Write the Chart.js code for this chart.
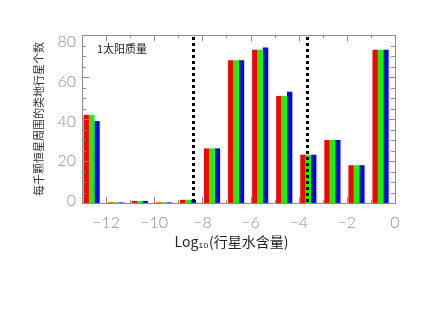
<!DOCTYPE html>
<html>
<head>
<meta charset="utf-8">
<script src="https://cdn.jsdelivr.net/npm/chart.js@4.4.1/dist/chart.umd.min.js"></script>
<style>
  html, body { margin: 0; padding: 0; background: #fff; }
  #wrap { width: 425px; height: 319px; }
</style>
</head>
<body>
<div id="wrap"><canvas id="c" width="425" height="319"></canvas></div>
<script>
// bin centres, log10(water content)
const binCenters = [-12.6, -11.6, -10.6, -9.6, -8.6, -7.6, -6.6, -5.6, -4.6, -3.6, -2.6, -1.6, -0.6];
// terrestrial planets per 1000 stars, three model runs
const redVals   = [42, 0.3, 1, 0.3, 1.5, 26, 68, 73, 51, 23, 30, 18, 73];
const greenVals = [42, 0.3, 1, 0.3, 1.5, 26, 68, 73, 51, 23, 30, 18, 73];
const blueVals  = [39, 0.3, 1, 0.3, 1.5, 26, 68, 74, 53, 23, 30, 18, 73];
const xTicks = [-12, -10, -8, -6, -4, -2, 0];
const yTicks = [0, 20, 40, 60, 80];
const dottedAt = [-8.4, -3.65];
const panelLabel = "1太阳质量";

const tickFont = { family: "Lato, 'Open Sans', sans-serif", size: 16, weight: 300 };
const gray = "#8c8c8c";

function pts(vals) {
  return vals.map((v, i) => ({ x: binCenters[i], y: v }));
}

// frame, inward ticks, dotted limits, label
const decor = {
  id: "decor",
  afterDatasetsDraw(chart) {
    const { ctx, chartArea: a, scales: { x, y } } = chart;
    ctx.save();

    // dotted lines
    ctx.strokeStyle = "#000";
    ctx.lineWidth = 3;
    ctx.setLineDash([3, 3]);
    dottedAt.forEach(v => {
      const px = Math.round(x.getPixelForValue(v)) + 0.5;
      ctx.beginPath();
      ctx.moveTo(px, a.top + 2);
      ctx.lineTo(px, a.bottom);
      ctx.stroke();
    });
    ctx.setLineDash([]);

    // box
    ctx.strokeStyle = gray;
    ctx.lineWidth = 1;
    ctx.strokeRect(Math.round(a.left) + 0.5, Math.round(a.top) + 0.5,
                   Math.round(a.right - a.left), Math.round(a.bottom - a.top));

    // y ticks every 5
    ctx.beginPath();
    for (let v = 0; v <= 80; v += 5) {
      const py = Math.round(y.getPixelForValue(v)) + 0.5;
      const len = v % 20 === 0 ? 7 : 4;
      ctx.moveTo(a.left, py); ctx.lineTo(a.left + len, py);
      ctx.moveTo(a.right, py); ctx.lineTo(a.right - len, py);
    }
    // x ticks every 1
    for (let v = -13; v <= 0; v++) {
      const px = Math.round(x.getPixelForValue(v)) + 0.5;
      const len = v % 2 === 0 ? 6 : 3;
      ctx.moveTo(px, a.bottom); ctx.lineTo(px, a.bottom - len);
      ctx.moveTo(px, a.top); ctx.lineTo(px, a.top + len);
    }
    ctx.stroke();

    // panel label
    ctx.fillStyle = "#222";
    ctx.font = "11px 'Noto Sans CJK SC', sans-serif";
    ctx.textBaseline = "middle";
    ctx.fillText(panelLabel, a.left + 15, a.top + 14);
    ctx.restore();
  }
};

new Chart(document.getElementById("c").getContext("2d"), {
  type: "bar",
  data: {
    datasets: [
      { data: pts(redVals),   backgroundColor: "#ff0000" },
      { data: pts(greenVals), backgroundColor: "#00ff00" },
      { data: pts(blueVals),  backgroundColor: "#0000ff" },
    ],
  },
  options: {
    responsive: false,
    animation: false,
    layout: { padding: { top: 35, right: 30, left: 0, bottom: 0 } },
    datasets: { bar: { categoryPercentage: 0.67, barPercentage: 1.0, borderWidth: 0 } },
    plugins: { legend: { display: false }, tooltip: { enabled: false } },
    scales: {
      x: {
        type: "linear",
        min: -13, max: 0,
        offset: false,
        grid: { display: false, drawTicks: false },
        border: { display: false },
        afterBuildTicks: ax => { ax.ticks = xTicks.map(v => ({ value: v })); },
        afterFit: ax => { ax.height = 116; },
        ticks: {
          color: gray, font: tickFont, padding: 10, maxRotation: 0,
          callback: v => (v < 0 ? "\u2212" + Math.abs(v) : String(v)),
        },
        title: {
          display: true,
          text: "Log\u2081\u2080(行星水含量)\u2002\u2002",
          color: "#222",
          font: { family: "'Noto Sans CJK SC', sans-serif", size: 14 },
          padding: { top: 0, bottom: 69 },
        },
      },
      // scale the bars are drawn on
      y: {
        min: 0, max: 80,
        display: false,
      },
      // labelled axis (labels sit slightly off the tick marks in the original)
      yLab: {
        position: "left",
        min: -1, max: 83.5,
        grid: { display: false, drawTicks: false },
        border: { display: false },
        afterBuildTicks: ax => { ax.ticks = yTicks.map(v => ({ value: v })); },
        afterFit: ax => { ax.width = 82; },
        ticks: { color: gray, font: tickFont, padding: 6 },
        title: {
          display: true,
          text: "每千颗恒星周围的类地行星个数",
          color: "#333",
          font: { family: "'Noto Sans CJK SC', sans-serif", size: 11 },
          padding: { top: 32, bottom: 0 },
        },
      },
    },
  },
  plugins: [decor],
});
</script>
</body>
</html>
